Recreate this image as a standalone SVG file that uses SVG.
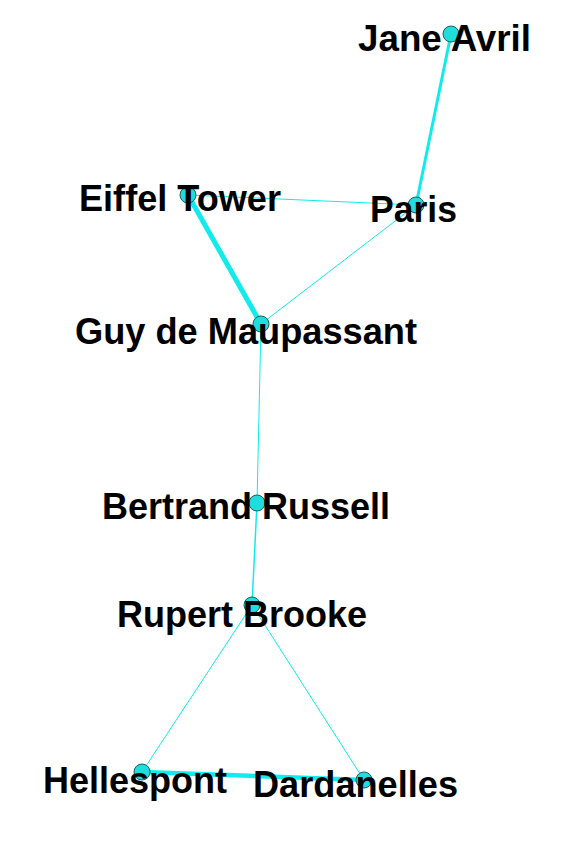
<svg xmlns="http://www.w3.org/2000/svg" width="564" height="846" viewBox="0 0 564 846">
<style>
.e{stroke:#10ecec;fill:none;stroke-linecap:round}
.n{fill:#20dcdc;stroke:#1f5f5f;stroke-width:1}
.t{font-family:"Liberation Sans",Arial,sans-serif;font-weight:bold;font-size:36px;fill:#000}
</style>
<rect width="564" height="846" fill="#fff"/>
<g id="edges">
<line class="e" x1="451" y1="34" x2="416" y2="205" stroke-width="3"/>
<line class="e" x1="188" y1="195" x2="416" y2="205" stroke-width="1"/>
<line class="e" x1="416" y1="205" x2="261" y2="324" stroke-width="1"/>
<line class="e" x1="188" y1="195" x2="261" y2="324" stroke-width="5"/>
<line class="e" x1="261" y1="324" x2="257" y2="503" stroke-width="1"/>
<line class="e" x1="257" y1="503" x2="252" y2="605" stroke-width="1.5"/>
<line class="e" x1="252" y1="605" x2="142" y2="772" stroke-width="1"/>
<line class="e" x1="252" y1="605" x2="364" y2="780" stroke-width="1"/>
<line class="e" x1="142" y1="772" x2="364" y2="780" stroke-width="4.5"/>
</g>
<g id="n-jane"><circle class="n" cx="451" cy="34" r="8"/><text class="t" x="358" y="51" textLength="173" lengthAdjust="spacingAndGlyphs">Jane Avril</text></g>
<g id="n-paris"><circle class="n" cx="416" cy="205" r="8"/><text class="t" x="370" y="222" textLength="87" lengthAdjust="spacingAndGlyphs">Paris</text></g>
<g id="n-eiffel"><circle class="n" cx="188" cy="195" r="8"/><text class="t" x="79" y="211" textLength="202" lengthAdjust="spacingAndGlyphs">Eiffel Tower</text></g>
<g id="n-guy"><circle class="n" cx="261" cy="324" r="8"/><text class="t" x="75" y="344" textLength="342" lengthAdjust="spacingAndGlyphs">Guy de Maupassant</text></g>
<g id="n-bertrand"><circle class="n" cx="257" cy="503" r="8"/><text class="t" x="102" y="519" textLength="288" lengthAdjust="spacingAndGlyphs">Bertrand Russell</text></g>
<g id="n-rupert"><circle class="n" cx="252" cy="605" r="8"/><text class="t" x="117" y="627" textLength="250" lengthAdjust="spacingAndGlyphs">Rupert Brooke</text></g>
<g id="n-hellespont"><circle class="n" cx="142" cy="772" r="8"/><text class="t" x="43" y="793" textLength="184" lengthAdjust="spacingAndGlyphs">Hellespont</text></g>
<g id="n-dardanelles"><circle class="n" cx="364" cy="780" r="8"/><text class="t" x="253" y="797" textLength="205" lengthAdjust="spacingAndGlyphs">Dardanelles</text></g>
</svg>
